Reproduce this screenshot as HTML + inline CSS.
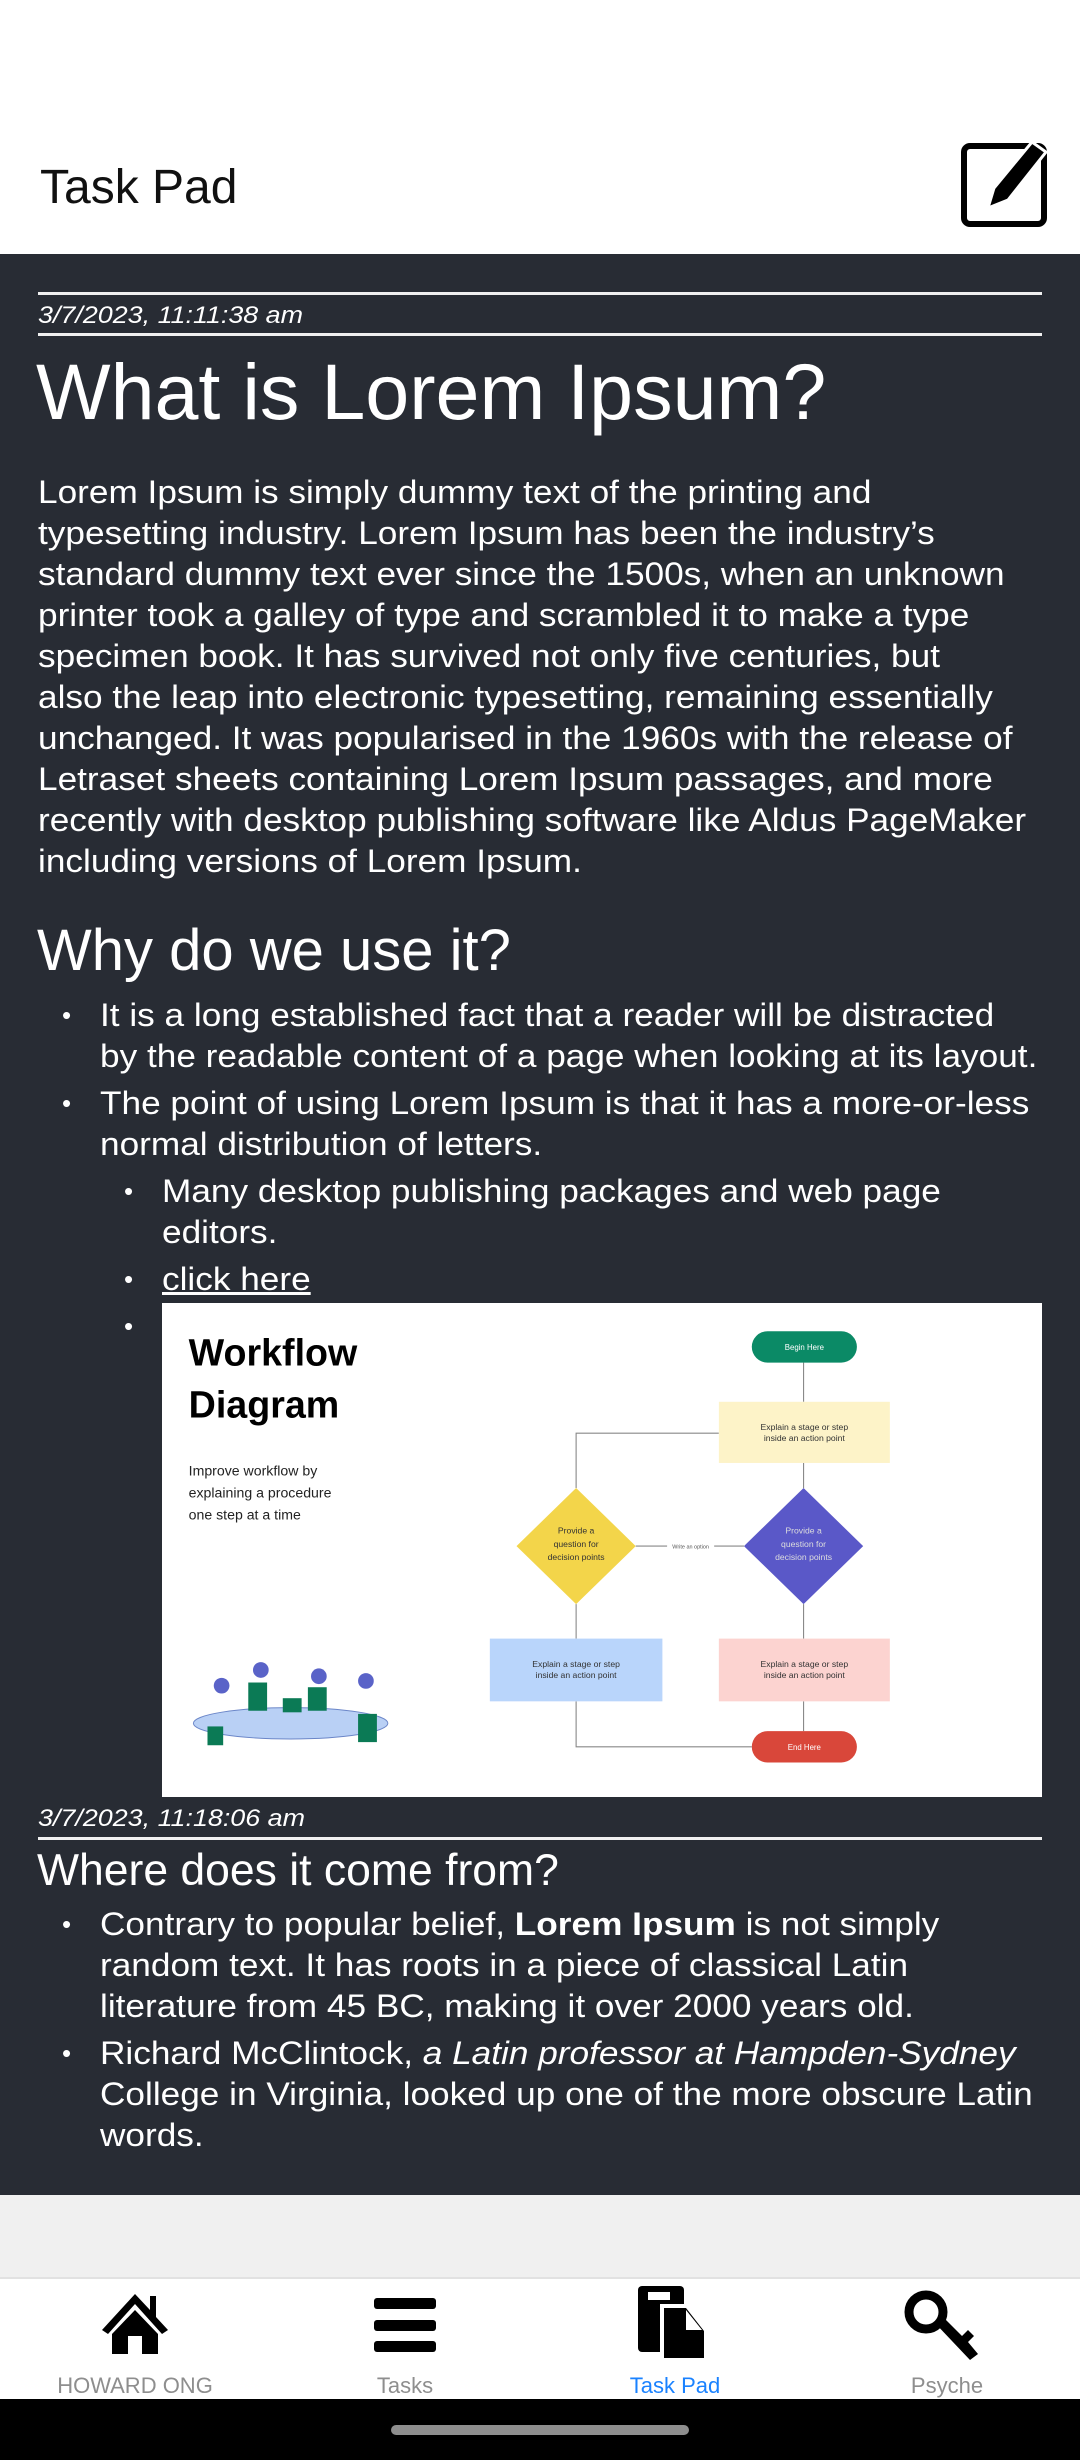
<!DOCTYPE html>
<html><head><meta charset="utf-8">
<style>
*{margin:0;padding:0;box-sizing:border-box}
body{width:1080px;height:2460px;position:relative;overflow:hidden;background:#fff;font-family:"Liberation Sans",Arial,sans-serif}
.abs{position:absolute}
.dark{left:0;top:254px;width:1080px;height:1941px;background:#282c34}
.l{position:absolute;left:38px;height:41px;line-height:41px;white-space:nowrap;font-size:32px;color:#fff;transform:scaleX(1.1);transform-origin:0 50%}
.li{left:100px}
.li2{left:162px}
.b{position:absolute;color:#fff;font-size:26px;line-height:41px;height:41px}
.hr{position:absolute;left:38px;width:1004px;height:3px;background:#f0f0f0}
.date{position:absolute;left:38px;font-size:24px;font-style:italic;color:#fff;line-height:30px;height:30px;white-space:nowrap;transform:scaleX(1.12);transform-origin:0 50%}
.nav{position:absolute;top:2371px;font-size:22px;color:#8e8e8e;width:240px;text-align:center;line-height:30px}
</style></head><body>
<div class="abs" style="left:40px;top:158px;font-size:48px;color:#111;line-height:60px">Task Pad</div>
<svg class="abs" style="left:958px;top:136px" width="96" height="96" viewBox="0 0 96 96">
<rect x="6" y="10" width="80" height="78" rx="6" fill="none" stroke="#000" stroke-width="6"/>
<path d="M30 72 L36 52 L74 6 L88 16 L50 64 Z" fill="#000" stroke="#fff" stroke-width="3"/>
</svg>
<div class="abs dark"></div>
<div class="hr" style="top:292px"></div>
<div class="date" style="top:301px">3/7/2023, 11:11:38 am</div>
<div class="hr" style="top:333px"></div>
<div class="abs" style="left:36px;top:344px;font-size:79px;line-height:96px;color:#fff;white-space:nowrap">What is Lorem Ipsum?</div>

<div class="l" style="top:472px">Lorem Ipsum is simply dummy text of the printing and</div>
<div class="l" style="top:513px">typesetting industry. Lorem Ipsum has been the industry’s</div>
<div class="l" style="top:554px">standard dummy text ever since the 1500s, when an unknown</div>
<div class="l" style="top:595px">printer took a galley of type and scrambled it to make a type</div>
<div class="l" style="top:636px">specimen book. It has survived not only five centuries, but</div>
<div class="l" style="top:677px">also the leap into electronic typesetting, remaining essentially</div>
<div class="l" style="top:718px">unchanged. It was popularised in the 1960s with the release of</div>
<div class="l" style="top:759px">Letraset sheets containing Lorem Ipsum passages, and more</div>
<div class="l" style="top:800px">recently with desktop publishing software like Aldus PageMaker</div>
<div class="l" style="top:841px">including versions of Lorem Ipsum.</div>

<div class="abs" style="left:37px;top:916px;font-size:58px;line-height:70px;color:#fff;white-space:nowrap">Why do we use it?</div>
<div class="b" style="left:62px;top:995px">•</div>
<div class="l li" style="top:995px">It is a long established fact that a reader will be distracted</div>
<div class="l li" style="top:1036px">by the readable content of a page when looking at its layout.</div>
<div class="b" style="left:62px;top:1083px">•</div>
<div class="l li" style="top:1083px">The point of using Lorem Ipsum is that it has a more-or-less</div>
<div class="l li" style="top:1124px">normal distribution of letters.</div>
<div class="b" style="left:124px;top:1171px">•</div>
<div class="l li2" style="top:1171px">Many desktop publishing packages and web page</div>
<div class="l li2" style="top:1212px">editors.</div>
<div class="b" style="left:124px;top:1259px">•</div>
<div class="l li2" style="top:1259px;text-decoration:underline">click here</div>
<div class="b" style="left:124px;top:1306px">•</div>

<svg class="abs" style="left:162px;top:1303px" width="880" height="494" viewBox="103 830 561 315" preserveAspectRatio="none">
<rect x="103" y="830" width="561" height="315" fill="#fff"/>
<text x="120" y="870" font-family="Liberation Sans, sans-serif" font-weight="bold" font-size="24" fill="#000">Workflow</text>
<text x="120" y="903" font-family="Liberation Sans, sans-serif" font-weight="bold" font-size="24" fill="#000">Diagram</text>
<g font-family="Liberation Sans, sans-serif" font-size="9" fill="#222">
<text x="120" y="940">Improve workflow by</text>
<text x="120" y="954">explaining a procedure</text>
<text x="120" y="968">one step at a time</text>
</g>
<g stroke="#888" stroke-width="0.7" fill="none">
<line x1="512" y1="868" x2="512" y2="893"/>
<line x1="512" y1="932" x2="512" y2="948"/>
<line x1="474" y1="985" x2="405" y2="985"/>
<polyline points="367,948 367,913 458,913"/>
<line x1="367" y1="1022" x2="367" y2="1044"/>
<line x1="512" y1="1022" x2="512" y2="1044"/>
<polyline points="367,1084 367,1113 479,1113"/>
<line x1="512" y1="1084" x2="512" y2="1103"/>
</g>
<rect x="425" y="982" width="30" height="6" fill="#fff"/>
<text x="440" y="986.5" font-family="Liberation Sans, sans-serif" font-size="3.5" fill="#555" text-anchor="middle">Write an option</text>
<rect x="479" y="848" width="67" height="20" rx="10" fill="#0b8a66"/>
<text x="512.5" y="860" font-family="Liberation Sans, sans-serif" font-size="5" fill="#fff" text-anchor="middle">Begin Here</text>
<rect x="458" y="893" width="109" height="39" fill="#fdf3c8"/>
<g font-family="Liberation Sans, sans-serif" font-size="5.5" fill="#333" text-anchor="middle">
<text x="512.5" y="911">Explain a stage or step</text><text x="512.5" y="918">inside an action point</text>
</g>
<polygon points="367,948 405,985 367,1022 329,985" fill="#f3d54a"/>
<g font-family="Liberation Sans, sans-serif" font-size="5.5" fill="#333" text-anchor="middle">
<text x="367" y="977">Provide a</text><text x="367" y="985.5">question for</text><text x="367" y="994">decision points</text></g>
<polygon points="512,948 550,985 512,1022 474,985" fill="#5a58c8"/>
<g font-family="Liberation Sans, sans-serif" font-size="5.5" fill="#ddd" text-anchor="middle">
<text x="512" y="977">Provide a</text><text x="512" y="985.5">question for</text><text x="512" y="994">decision points</text></g>
<rect x="312" y="1044" width="110" height="40" fill="#b9d5fb"/>
<rect x="458" y="1044" width="109" height="40" fill="#fcd3d0"/>
<g font-family="Liberation Sans, sans-serif" font-size="5.5" fill="#333" text-anchor="middle">
<text x="367" y="1062">Explain a stage or step</text><text x="367" y="1069">inside an action point</text>
<text x="512.5" y="1062">Explain a stage or step</text><text x="512.5" y="1069">inside an action point</text></g>
<rect x="479" y="1103" width="67" height="20" rx="10" fill="#d9473a"/>
<text x="512.5" y="1115" font-family="Liberation Sans, sans-serif" font-size="5" fill="#fff" text-anchor="middle">End Here</text>
<ellipse cx="185" cy="1098" rx="62" ry="10" fill="#b9d0f5" stroke="#6b86c8" stroke-width="0.6"/>
<g fill="#0b7a55"><rect x="132" y="1100" width="10" height="12"/><rect x="158" y="1072" width="12" height="18"/><rect x="196" y="1075" width="12" height="15"/><rect x="228" y="1092" width="12" height="18"/><rect x="180" y="1082" width="12" height="9"/></g>
<g fill="#5a63c8"><circle cx="141" cy="1074" r="5"/><circle cx="166" cy="1064" r="5"/><circle cx="203" cy="1068" r="5"/><circle cx="233" cy="1071" r="5"/></g>
</svg>

<div class="date" style="top:1804px">3/7/2023, 11:18:06 am</div>
<div class="hr" style="top:1837px"></div>
<div class="abs" style="left:37px;top:1846px;font-size:44.5px;line-height:50px;color:#fff;white-space:nowrap">Where does it come from?</div>
<div class="b" style="left:62px;top:1904px">•</div>
<div class="l li" style="top:1904px">Contrary to popular belief, <b>Lorem Ipsum</b> is not simply</div>
<div class="l li" style="top:1945px">random text. It has roots in a piece of classical Latin</div>
<div class="l li" style="top:1986px">literature from 45 BC, making it over 2000 years old.</div>
<div class="b" style="left:62px;top:2033px">•</div>
<div class="l li" style="top:2033px">Richard McClintock, <i>a Latin professor at Hampden-Sydney</i></div>
<div class="l li" style="top:2074px">College in Virginia, looked up one of the more obscure Latin</div>
<div class="l li" style="top:2115px">words.</div>

<div class="abs" style="left:0;top:2195px;width:1080px;height:83px;background:#f0f0f0"></div>
<div class="abs" style="left:0;top:2277px;width:1080px;height:2px;background:#e2e2e2"></div>
<div class="abs" style="left:0;top:2399px;width:1080px;height:61px;background:#000"></div>
<div class="abs" style="left:391px;top:2425px;width:298px;height:10px;border-radius:5px;background:#8e8e8e"></div>

<svg class="abs" style="left:100px;top:2290px" width="70" height="66" viewBox="0 0 70 66">
<path d="M35 4 L2 40 L8 44 L35 14 L62 44 L68 40 L56 27 L56 6 L50 6 L50 20 Z" fill="#000"/>
<path d="M12 44 L35 20 L58 44 L58 64 L42 64 L42 46 L28 46 L28 64 L12 64 Z" fill="#000"/>
</svg>
<svg class="abs" style="left:372px;top:2295px" width="66" height="60" viewBox="0 0 66 60">
<rect x="2" y="3" width="62" height="11" rx="3"/><rect x="2" y="25" width="62" height="11" rx="3"/><rect x="2" y="46" width="62" height="11" rx="3"/>
</svg>
<svg class="abs" style="left:636px;top:2284px" width="78" height="80" viewBox="0 0 78 80">
<rect x="2" y="2" width="46" height="66" rx="4" fill="#000"/>
<rect x="12" y="8" width="22" height="8" fill="#fff"/>
<path d="M24 20 L52 20 L72 46 L72 78 L24 78 Z" fill="#fff"/>
<path d="M28 24 L50 24 L68 47 L68 74 L28 74 Z" fill="#000"/>
<path d="M50 26 L50 46 L66 46 Z" fill="#fff"/>
</svg>
<svg class="abs" style="left:904px;top:2288px" width="80" height="74" viewBox="0 0 80 74">
<circle cx="22" cy="24" r="17" fill="none" stroke="#000" stroke-width="9"/>
<path d="M30 34 L66 72 L74 66 L64 54 L70 48 L64 42 L58 48 L38 28 Z" fill="#000"/>
</svg>
<div class="nav" style="left:15px">HOWARD ONG</div>
<div class="nav" style="left:285px">Tasks</div>
<div class="nav" style="left:555px;color:#1a82ff">Task Pad</div>
<div class="nav" style="left:827px">Psyche</div>
</body></html>
